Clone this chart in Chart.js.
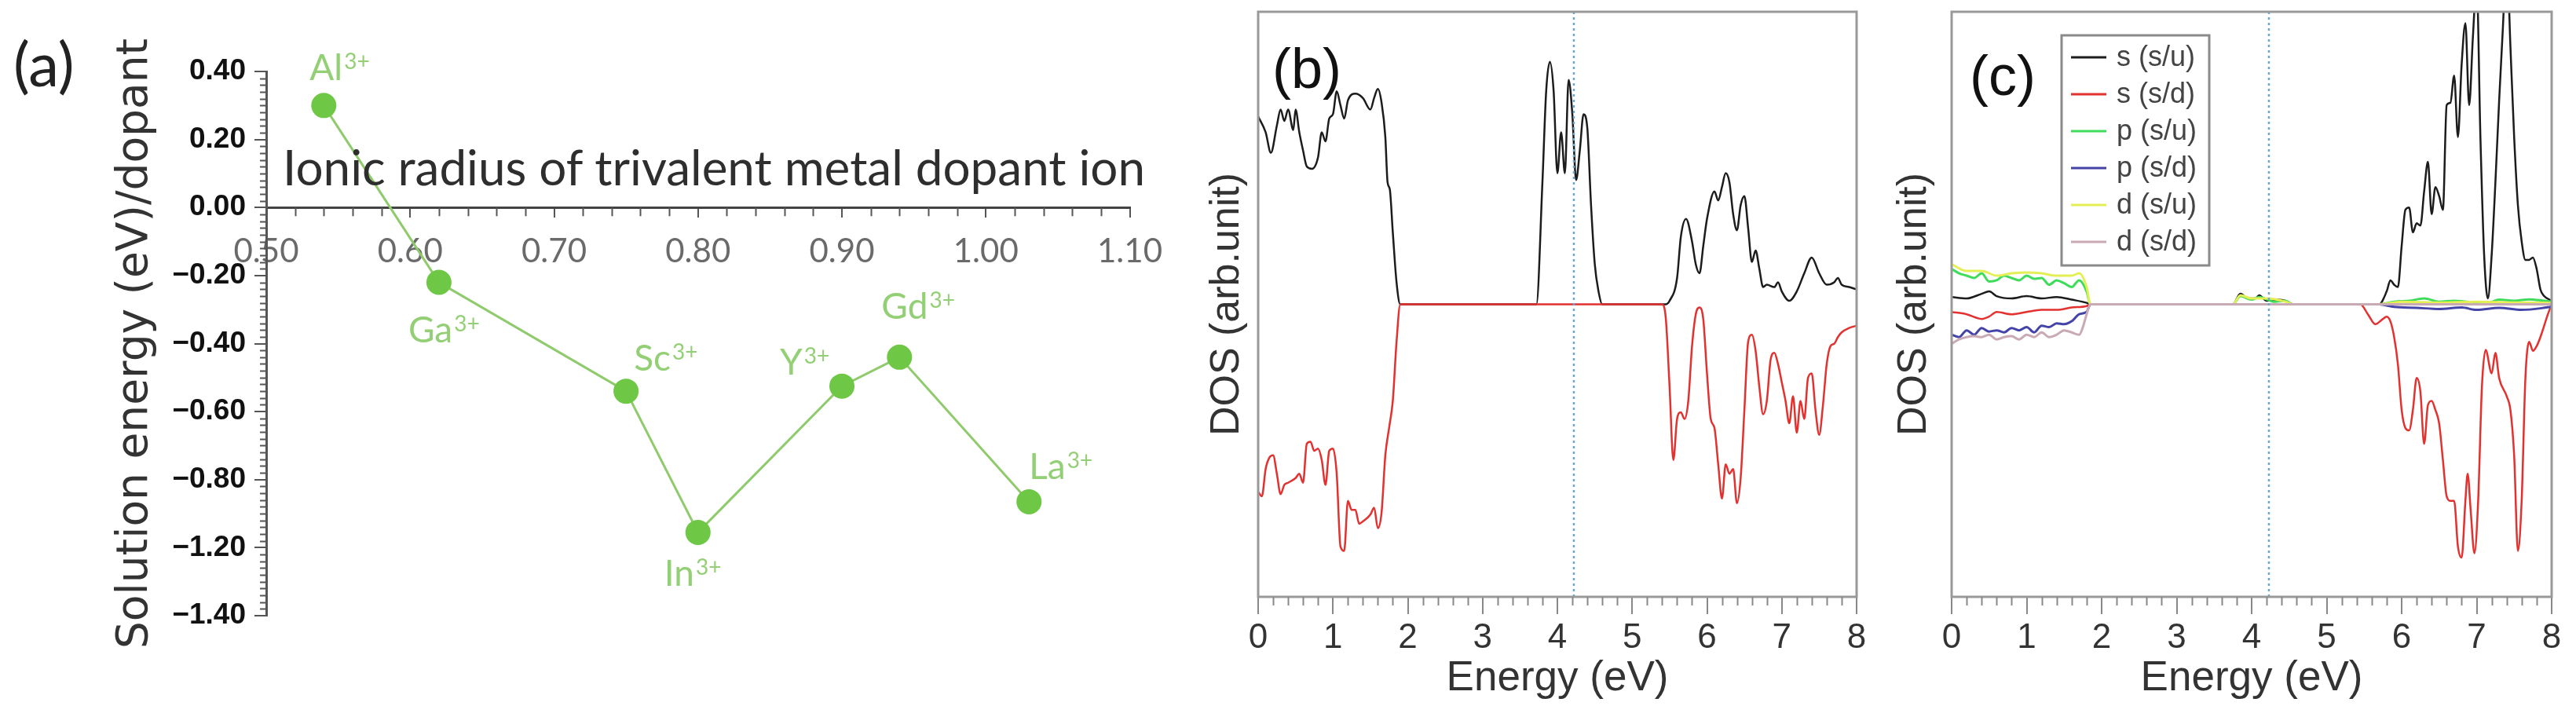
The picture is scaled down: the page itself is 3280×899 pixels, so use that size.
<!DOCTYPE html>
<html><head><meta charset="utf-8">
<script src="https://cdn.jsdelivr.net/npm/chart.js@4.4.1/dist/chart.umd.min.js"></script>
<style>
html,body{margin:0;padding:0;background:#fff;}
body{width:3280px;height:899px;position:relative;overflow:hidden;}
canvas{position:absolute;top:0;}
.lbl{position:absolute;white-space:nowrap;line-height:1;}
</style></head><body>
<canvas id="ca" width="1500" height="899" style="left:0;width:1500px;height:899px"></canvas>
<canvas id="cb" width="900" height="899" style="left:1500px;width:900px;height:899px"></canvas>
<canvas id="cc" width="880" height="899" style="left:2400px;width:880px;height:899px"></canvas>
<div class="lbl" style="left:17px;top:33px;font:78px Lato;color:#222">(a)</div>
<div class="lbl" style="left:360px;top:175px;font:62px Lato;color:#2e2e2e">Ionic radius of trivalent metal dopant ion</div>
<div class="lbl" style="left:1620px;top:46px;font:72px 'Liberation Sans';color:#111">(b)</div>
<div class="lbl" style="left:2508px;top:55px;font:72px 'Liberation Sans';color:#111">(c)</div>
<script>
// ---------- Panel (a) data ----------
const ionNames = ["Al","Ga","Sc","In","Y","Gd","La"];
const ionCharge = "3+";
const ionicRadius = [0.54, 0.62, 0.75, 0.80, 0.90, 0.94, 1.03];
const solutionEnergy = [0.30, -0.22, -0.54, -0.955, -0.525, -0.44, -0.865];
const yTickLabelsA = ["0.40","0.20","0.00","\u22120.20","\u22120.40","\u22120.60","\u22120.80","\u22121.20","\u22121.40"];

// ---------- Panel (b) data: [energy eV, DOS] ----------
const dosB_spinUp = [[0,0.642],[0.1,0.588],[0.17,0.518],[0.25,0.611],[0.3,0.666],[0.35,0.627],[0.4,0.666],[0.47,0.596],[0.5,0.666],[0.55,0.588],[0.6,0.526],[0.65,0.471],[0.72,0.463],[0.8,0.502],[0.85,0.588],[0.9,0.557],[0.95,0.635],[1.0,0.650],[1.05,0.728],[1.1,0.681],[1.15,0.635],[1.2,0.697],[1.3,0.720],[1.4,0.705],[1.5,0.666],[1.55,0.705],[1.6,0.736],[1.65,0.689],[1.7,0.572],[1.73,0.417],[1.76,0.393],[1.8,0.246],[1.85,0.075],[1.9,0],[3.72,0],[3.8,0.417],[3.85,0.728],[3.9,0.829],[3.95,0.728],[4.0,0.448],[4.05,0.588],[4.1,0.448],[4.15,0.767],[4.2,0.650],[4.25,0.425],[4.3,0.526],[4.35,0.650],[4.4,0.603],[4.45,0.339],[4.5,0.137],[4.55,0.044],[4.6,0],[5.45,0],[5.5,0.012],[5.6,0.090],[5.65,0.230],[5.72,0.292],[5.8,0.215],[5.85,0.137],[5.9,0.106],[5.95,0.199],[6.0,0.292],[6.1,0.386],[6.15,0.355],[6.2,0.401],[6.25,0.448],[6.3,0.417],[6.35,0.308],[6.4,0.253],[6.45,0.339],[6.5,0.370],[6.55,0.261],[6.6,0.145],[6.65,0.184],[6.7,0.121],[6.75,0.059],[6.8,0.067],[6.9,0.059],[6.95,0.075],[7.0,0.044],[7.1,0.012],[7.2,0.044],[7.3,0.106],[7.4,0.160],[7.5,0.106],[7.6,0.067],[7.7,0.075],[7.75,0.090],[7.8,0.067],[7.9,0.059],[8.0,0.051]];
const dosB_spinDown = [[0,-0.641],[0.05,-0.656],[0.1,-0.563],[0.15,-0.524],[0.2,-0.516],[0.25,-0.579],[0.3,-0.649],[0.35,-0.617],[0.4,-0.610],[0.5,-0.594],[0.55,-0.579],[0.6,-0.610],[0.65,-0.477],[0.7,-0.470],[0.75,-0.501],[0.8,-0.493],[0.85,-0.532],[0.9,-0.617],[0.95,-0.501],[1.0,-0.493],[1.05,-0.579],[1.1,-0.827],[1.15,-0.843],[1.2,-0.672],[1.25,-0.703],[1.3,-0.703],[1.35,-0.750],[1.4,-0.742],[1.5,-0.719],[1.55,-0.695],[1.6,-0.765],[1.65,-0.711],[1.7,-0.516],[1.75,-0.423],[1.8,-0.330],[1.85,-0.128],[1.9,0],[5.4,0],[5.45,-0.050],[5.5,-0.283],[5.55,-0.532],[5.6,-0.392],[5.65,-0.369],[5.7,-0.392],[5.75,-0.330],[5.8,-0.143],[5.85,-0.034],[5.9,-0.011],[5.95,-0.050],[6.0,-0.236],[6.05,-0.392],[6.1,-0.423],[6.15,-0.547],[6.2,-0.664],[6.25,-0.547],[6.3,-0.579],[6.35,-0.563],[6.4,-0.680],[6.45,-0.594],[6.5,-0.361],[6.55,-0.128],[6.6,-0.104],[6.65,-0.159],[6.7,-0.283],[6.75,-0.376],[6.8,-0.330],[6.85,-0.190],[6.9,-0.166],[6.95,-0.205],[7.0,-0.267],[7.05,-0.330],[7.1,-0.407],[7.15,-0.314],[7.2,-0.439],[7.25,-0.330],[7.3,-0.392],[7.35,-0.252],[7.4,-0.236],[7.45,-0.361],[7.5,-0.446],[7.55,-0.345],[7.6,-0.205],[7.65,-0.143],[7.7,-0.135],[7.75,-0.112],[7.8,-0.096],[7.9,-0.081],[8.0,-0.073]];
const fermiB = 4.22;

// ---------- Panel (c) data: [energy eV, DOS] ----------
const dosC_s_up = [[0,0.025],[0.2,0.020],[0.4,0.036],[0.5,0.044],[0.6,0.028],[0.8,0.020],[1.0,0.028],[1.2,0.020],[1.4,0.025],[1.6,0.016],[1.8,0.005],[1.85,0],[3.75,0],[3.85,0.036],[3.95,0.020],[4.05,0.020],[4.1,0.031],[4.2,0.012],[4.35,0.016],[4.45,0.012],[4.55,0],[5.7,0],[5.8,0.044],[5.85,0.082],[5.9,0.067],[5.95,0.059],[6.0,0.199],[6.05,0.323],[6.1,0.331],[6.15,0.246],[6.2,0.277],[6.25,0.269],[6.3,0.386],[6.35,0.487],[6.4,0.308],[6.45,0.401],[6.5,0.370],[6.55,0.323],[6.6,0.681],[6.65,0.689],[6.7,0.782],[6.75,0.572],[6.8,0.821],[6.85,0.961],[6.9,0.681],[6.95,0.914],[7.0,1.1],[7.05,0.572],[7.1,0.168],[7.15,0.020],[7.2,0.168],[7.25,0.417],[7.3,0.697],[7.35,0.946],[7.4,1.2],[7.45,0.883],[7.5,0.572],[7.55,0.339],[7.6,0.215],[7.65,0.152],[7.7,0.152],[7.75,0.160],[7.8,0.121],[7.85,0.051],[7.9,0.028],[8.0,0.012]];
const dosC_s_down = [[0,-0.026],[0.2,-0.034],[0.4,-0.050],[0.5,-0.042],[0.6,-0.026],[0.8,-0.034],[1.0,-0.026],[1.2,-0.019],[1.4,-0.019],[1.6,-0.011],[1.8,-0.006],[1.85,0],[5.45,0],[5.55,-0.034],[5.65,-0.068],[5.75,-0.050],[5.8,-0.042],[5.85,-0.058],[5.9,-0.112],[5.95,-0.205],[6.0,-0.361],[6.05,-0.423],[6.1,-0.431],[6.15,-0.361],[6.2,-0.252],[6.25,-0.299],[6.3,-0.477],[6.35,-0.345],[6.4,-0.330],[6.45,-0.361],[6.5,-0.407],[6.55,-0.532],[6.6,-0.656],[6.65,-0.672],[6.7,-0.672],[6.75,-0.827],[6.8,-0.866],[6.85,-0.672],[6.88,-0.579],[6.92,-0.703],[6.97,-0.851],[7.02,-0.672],[7.07,-0.283],[7.12,-0.156],[7.2,-0.236],[7.25,-0.166],[7.3,-0.252],[7.4,-0.314],[7.45,-0.361],[7.5,-0.516],[7.55,-0.843],[7.6,-0.672],[7.65,-0.252],[7.7,-0.128],[7.75,-0.159],[7.8,-0.143],[7.85,-0.112],[7.95,-0.034],[8.0,0]];
const dosC_p_up = [[0,0.121],[0.1,0.106],[0.2,0.098],[0.3,0.090],[0.4,0.106],[0.5,0.078],[0.6,0.082],[0.7,0.098],[0.8,0.090],[0.9,0.082],[1.0,0.098],[1.1,0.087],[1.2,0.090],[1.3,0.067],[1.4,0.082],[1.5,0.072],[1.6,0.059],[1.7,0.082],[1.8,0.044],[1.85,0],[3.75,0],[3.85,0.028],[4.0,0.016],[4.1,0.025],[4.3,0.009],[4.45,0.012],[4.55,0],[5.7,0],[5.9,0.009],[6.1,0.012],[6.3,0.020],[6.5,0.009],[6.7,0.012],[6.9,0.008],[7.15,0.005],[7.3,0.016],[7.5,0.012],[7.7,0.017],[7.9,0.012],[8.0,0.009]];
const dosC_p_down = [[0,-0.104],[0.1,-0.112],[0.2,-0.089],[0.3,-0.104],[0.4,-0.081],[0.5,-0.093],[0.6,-0.089],[0.7,-0.096],[0.8,-0.081],[0.9,-0.089],[1.0,-0.078],[1.1,-0.096],[1.2,-0.073],[1.3,-0.078],[1.4,-0.065],[1.5,-0.068],[1.6,-0.058],[1.7,-0.034],[1.8,-0.026],[1.85,0],[5.7,0],[5.9,-0.009],[6.2,-0.012],[6.5,-0.016],[6.8,-0.011],[7.0,-0.019],[7.3,-0.012],[7.6,-0.019],[8.0,-0.009]];
const dosC_d_up = [[0,0.137],[0.2,0.114],[0.4,0.114],[0.6,0.098],[0.8,0.106],[1.0,0.109],[1.2,0.106],[1.4,0.098],[1.6,0.098],[1.7,0.106],[1.8,0.059],[1.85,0],[3.75,0],[3.85,0.031],[4.0,0.020],[4.2,0.020],[4.45,0.009],[4.55,0],[5.7,0],[6.0,0.009],[6.5,0.006],[7.0,0.009],[7.5,0.006],[8.0,0.005]];
const dosC_d_down = [[0,-0.135],[0.1,-0.120],[0.2,-0.112],[0.3,-0.109],[0.4,-0.112],[0.5,-0.104],[0.6,-0.120],[0.7,-0.112],[0.8,-0.109],[0.9,-0.120],[1.0,-0.104],[1.1,-0.112],[1.2,-0.096],[1.3,-0.112],[1.4,-0.104],[1.5,-0.089],[1.6,-0.096],[1.7,-0.104],[1.75,-0.078],[1.8,-0.034],[1.85,0],[8.0,0]];
const fermiC = 4.23;
const legendLabelsC = ["s (s/u)","s (s/d)","p (s/u)","p (s/d)","d (s/u)","d (s/d)"];

// ---------- styles ----------
const labelOffsets = [[-18,-32],[-39,76],[10,-26],[-43,68],[-79,-15],[-23,-49],[0,-29]];
const GREEN_PT = '#6ec846', GREEN_LINE = '#8fcb6c', GREEN_TXT = '#93cf74';

const toXY = arr => arr.map(p => ({x:p[0], y:p[1]}));

Chart.defaults.animation = false;
Chart.defaults.devicePixelRatio = 1;
Chart.defaults.plugins.legend.display = false;
Chart.defaults.plugins.tooltip.enabled = false;

// minor ticks plugin
const minorTicks = {
  id:'minorTicks',
  afterDraw(chart, args, o){
    const ctx = chart.ctx, ca = chart.chartArea;
    ctx.save();
    ctx.strokeStyle = o.color; ctx.lineWidth = o.width;
    (o.x||[]).forEach(m => {
      const xs = chart.scales.x;
      const yb = m.atZero ? chart.scales.y.getPixelForValue(0) : ca.bottom;
      const n = Math.round((m.max - m.min)/m.step);
      for (let i=0;i<=n;i++){
        if (i % m.every === 0) continue;
        const px = Math.round(xs.getPixelForValue(m.min + i*m.step)) + 0.5;
        ctx.beginPath(); ctx.moveTo(px, yb); ctx.lineTo(px, yb + m.len); ctx.stroke();
      }
    });
    (o.y||[]).forEach(m => {
      const ys = chart.scales.y;
      const n = Math.round((m.max - m.min)/m.step);
      for (let i=0;i<=n;i++){
        if (i % m.every === 0) continue;
        const py = Math.round(ys.getPixelForValue(m.min + i*m.step)) + 0.5;
        ctx.beginPath(); ctx.moveTo(ca.left, py); ctx.lineTo(ca.left - m.len, py); ctx.stroke();
      }
    });
    ctx.restore();
  }
};

const framePlugin = {
  id:'frame',
  afterDraw(chart, args, o){
    const ctx = chart.ctx, ca = chart.chartArea;
    ctx.save(); ctx.strokeStyle = o.color; ctx.lineWidth = o.width;
    ctx.strokeRect(ca.left, ca.top, ca.right - ca.left, ca.bottom - ca.top);
    ctx.restore();
  }
};

const pointLabels = {
  id:'pointLabels',
  afterDatasetsDraw(chart){
    const ctx = chart.ctx, xs = chart.scales.x, ys = chart.scales.y;
    ctx.save(); ctx.fillStyle = GREEN_TXT; ctx.textBaseline = 'alphabetic'; ctx.textAlign = 'left';
    ionNames.forEach((n,i) => {
      const px = xs.getPixelForValue(ionicRadius[i]) + labelOffsets[i][0];
      const py = ys.getPixelForValue(solutionEnergy[i]) + labelOffsets[i][1];
      ctx.font = '46px Lato'; ctx.fillText(n, px, py);
      const w = ctx.measureText(n).width;
      ctx.font = '28px Lato'; ctx.fillText(ionCharge, px + w + 2, py - 14);
    });
    ctx.restore();
  }
};

const boxLegend = {
  id:'boxLegend',
  afterDraw(chart, args, o){
    const ctx = chart.ctx;
    ctx.save();
    ctx.fillStyle = '#fff'; ctx.fillRect(o.x, o.y, o.w, o.h);
    ctx.strokeStyle = '#8a8a8a'; ctx.lineWidth = 3; ctx.strokeRect(o.x, o.y, o.w, o.h);
    const items = chart.data.datasets.filter(d => d.inLegend);
    items.forEach((d,i) => {
      const cy = o.y + o.first + i*o.dy;
      ctx.strokeStyle = d.borderColor; ctx.lineWidth = 3;
      ctx.beginPath(); ctx.moveTo(o.x + 12, cy); ctx.lineTo(o.x + 57, cy); ctx.stroke();
      ctx.fillStyle = '#444'; ctx.font = "36px 'Liberation Sans'"; ctx.textBaseline = 'middle'; ctx.textAlign='left';
      ctx.fillText(d.label, o.x + 70, cy + 1);
    });
    ctx.restore();
  }
};

// ---------- Chart (a) ----------
new Chart(document.getElementById('ca'), {
  type:'scatter',
  data:{ datasets:[{
    data: ionicRadius.map((r,i)=>({x:r, y:solutionEnergy[i]})),
    showLine:true, borderColor:GREEN_LINE, borderWidth:3,
    pointRadius:16, pointBackgroundColor:GREEN_PT, pointBorderWidth:0, pointHoverRadius:16
  }]},
  options:{
    responsive:false,
    layout:{padding:{top:91, bottom:115, right:51, left:0}},
    scales:{
      x:{ type:'linear', min:0.5, max:1.1, position:{y:0},
        afterFit: s => { s.height = 0; },
        ticks:{ stepSize:0.1, autoSkip:false, maxRotation:0, padding:20, color:'#6a6a6a',
          font:{family:'Lato', size:42}, callback: v => v.toFixed(2) },
        grid:{ drawOnChartArea:false, drawTicks:true, tickLength:11, color:'#555', lineWidth:2 },
        border:{ display:true, color:'#444', width:3 }
      },
      y:{ type:'linear', min:-1.2, max:0.4,
        afterFit: s => { s.width = 339; },
        ticks:{ stepSize:0.2, autoSkip:false, padding:11, color:'#111',
          font:{family:'Liberation Sans', size:37, weight:'bold'},
          callback: v => yTickLabelsA[Math.round((0.4 - v)/0.2)] },
        grid:{ drawOnChartArea:false, drawTicks:true, tickLength:15, color:'#555', lineWidth:2 },
        border:{ display:true, color:'#555', width:3 },
        title:{ display:true, text:'Solution energy (eV)/dopant', color:'#333',
          font:{family:'DejaVu Sans', size:55}, padding:{top:140, bottom:0} }
      }
    },
    plugins:{ minorTicks:{ color:'#555', width:2,
      x:[{min:0.5, max:1.1, step:0.02, every:5, len:11, atZero:true}],
      y:[{min:-1.2, max:0.4, step:0.02, every:10, len:8}] } }
  },
  plugins:[minorTicks, pointLabels]
});

// ---------- shared DOS axis options ----------
function dosScales(yAxisWidth, yTitlePad){
  return {
    x:{ type:'linear', min:0, max:8,
      afterFit: s => { s.height = 139; },
      ticks:{ stepSize:1, autoSkip:false, maxRotation:0, padding:4, color:'#333',
        font:{family:'Liberation Sans', size:44} },
      grid:{ drawOnChartArea:false, drawTicks:true, tickLength:22, color:'#888', lineWidth:2 },
      border:{ display:false },
      title:{ display:true, text:'Energy (eV)', color:'#333',
        font:{family:'Liberation Sans', size:53}, padding:{top:0, bottom:3} }
    },
    y:{ type:'linear', min:-1, max:1,
      afterFit: s => { s.width = yAxisWidth; },
      ticks:{ display:false },
      grid:{ display:false },
      border:{ display:false },
      title:{ display:true, text:'DOS (arb.unit)', color:'#333',
        font:{family:'Liberation Sans', size:52}, padding:{top:yTitlePad, bottom:0} }
    }
  };
}
const lineStyle = (color, width, order) => ({ showLine:true, borderColor:color, borderWidth:width,
  pointRadius:0, cubicInterpolationMode:'monotone', order:order });
const fermiSet = (x) => ({ data:[{x:x,y:-1},{x:x,y:1}], showLine:true, borderColor:'#6aa9cc',
  borderWidth:2.5, borderDash:[3,4], pointRadius:0, order:-1 });

// ---------- Chart (b) ----------
new Chart(document.getElementById('cb'), {
  type:'scatter',
  data:{ datasets:[
    Object.assign({label:'spin up', data:toXY(dosB_spinUp)}, lineStyle('#1c1c1c', 2.5, 1)),
    Object.assign({label:'spin down', data:toXY(dosB_spinDown)}, lineStyle('#e2312f', 2.5, 0)),
    fermiSet(fermiB)
  ]},
  options:{ responsive:false, layout:{padding:{top:15, right:36, left:0, bottom:0}},
    scales: dosScales(102, 31),
    plugins:{ frame:{color:'#999', width:3},
      minorTicks:{ color:'#888', width:2, x:[{min:0, max:8, step:0.2, every:5, len:11}] } } },
  plugins:[framePlugin, minorTicks]
});

// ---------- Chart (c) ----------
const cColors = ['#1c1c1c','#e2312f','#3fdc5c','#4343a8','#e4ef55','#c9aab4'];
const cData = [dosC_s_up, dosC_s_down, dosC_p_up, dosC_p_down, dosC_d_up, dosC_d_down];
const cOrder = [5,4,3,2,1,0];
new Chart(document.getElementById('cc'), {
  type:'scatter',
  data:{ datasets: cData.map((d,i) => Object.assign({label:legendLabelsC[i], data:toXY(d), inLegend:true},
           lineStyle(cColors[i], i < 2 ? 2.5 : 3, cOrder[i]))).concat([fermiSet(fermiC)]) },
  options:{ responsive:false, layout:{padding:{top:15, right:31, left:0, bottom:0}},
    scales: dosScales(85, 6),
    plugins:{ frame:{color:'#999', width:3},
      minorTicks:{ color:'#888', width:2, x:[{min:0, max:8, step:0.2, every:5, len:11}] },
      boxLegend:{ x:225, y:45, w:188, h:293, first:28, dy:47 } } },
  plugins:[framePlugin, minorTicks, boxLegend]
});
</script>
</body></html>
